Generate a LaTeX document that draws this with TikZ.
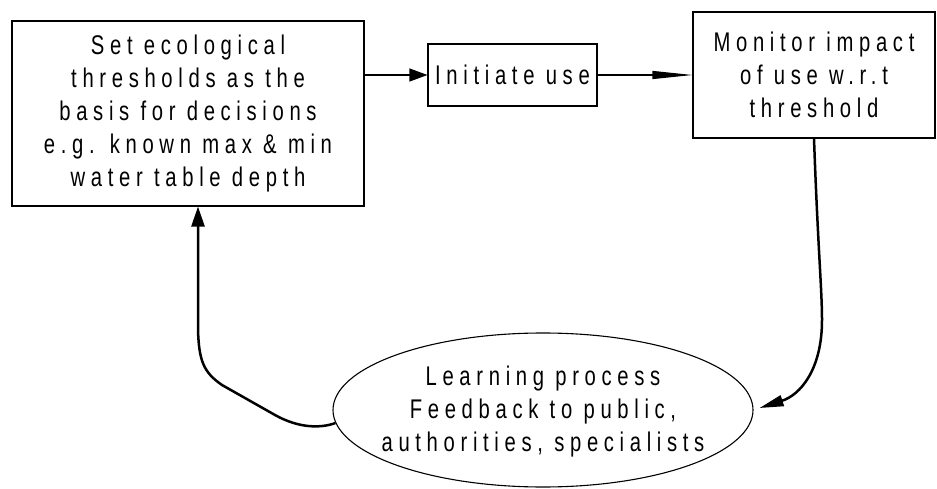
\documentclass[tikz,border=0pt]{standalone}
\usepackage{fontspec}
\setmainfont{Liberation Sans}[LetterSpace=21,FakeStretch=0.75]
\usetikzlibrary{arrows.meta,shapes.geometric,calc}
\begin{document}
\begin{tikzpicture}[x=1pt,y=-1pt,
  txt/.style={font=\fontsize{27}{33}\selectfont, align=center, inner sep=0pt},
  box/.style={txt, draw, line width=1.1pt},
  thinarrow/.style={line width=1.1pt},
  thickarrow/.style={line width=2.5pt},
]
\useasboundingbox (0,0) rectangle (937,489);
\node[box, minimum width=352pt, minimum height=185pt] (b1) at (188,113.5)
  {Set ecological\\thresholds as the\\basis for decisions\\e.g. known max \& min\\water table depth};
\node[box, minimum width=169pt, minimum height=62pt] (ini) at (512.5,75) {Initiate use};
\node[box, minimum width=242pt, minimum height=126pt] (mon) at (814,75)
  {Monitor impact\\of use w.r.t\\threshold};
\node[draw, ellipse, line width=1.1pt, minimum width=420pt, minimum height=154pt, inner sep=0pt] (ell) at (543,410) {};
\node[txt] (ellt) at (543,412) {Learning process\\Feedback to public,\\authorities, specialists};
\coordinate (up) at ([xshift=10pt]b1.south);
\coordinate (lstart) at ([xshift=3pt,yshift=-13pt]ell.west);

\draw[thinarrow, -{Triangle[length=18pt,width=13pt]}] (ini.west -| b1.east) -- (ini.west);
\draw[thinarrow, -{Triangle[length=40pt,width=8pt]}] (ini.east) -- (mon.west |- ini.east);
\draw[thickarrow, -{Triangle[length=24pt,width=11pt]}] (mon.south)
  .. controls (818,250) and (822,290) .. (822,320)
  .. controls (822,370) and (800,395) .. ([xshift=6pt,yshift=2pt]ell.east);
\draw[thickarrow, -{Triangle[length=20pt,width=13pt]}] (lstart)
  .. controls (322,428) and (300,429) .. (275,415) -- (222,385)
  .. controls (203,372) and (199,360) .. (198,330) -- (up);
\end{tikzpicture}
\end{document}
